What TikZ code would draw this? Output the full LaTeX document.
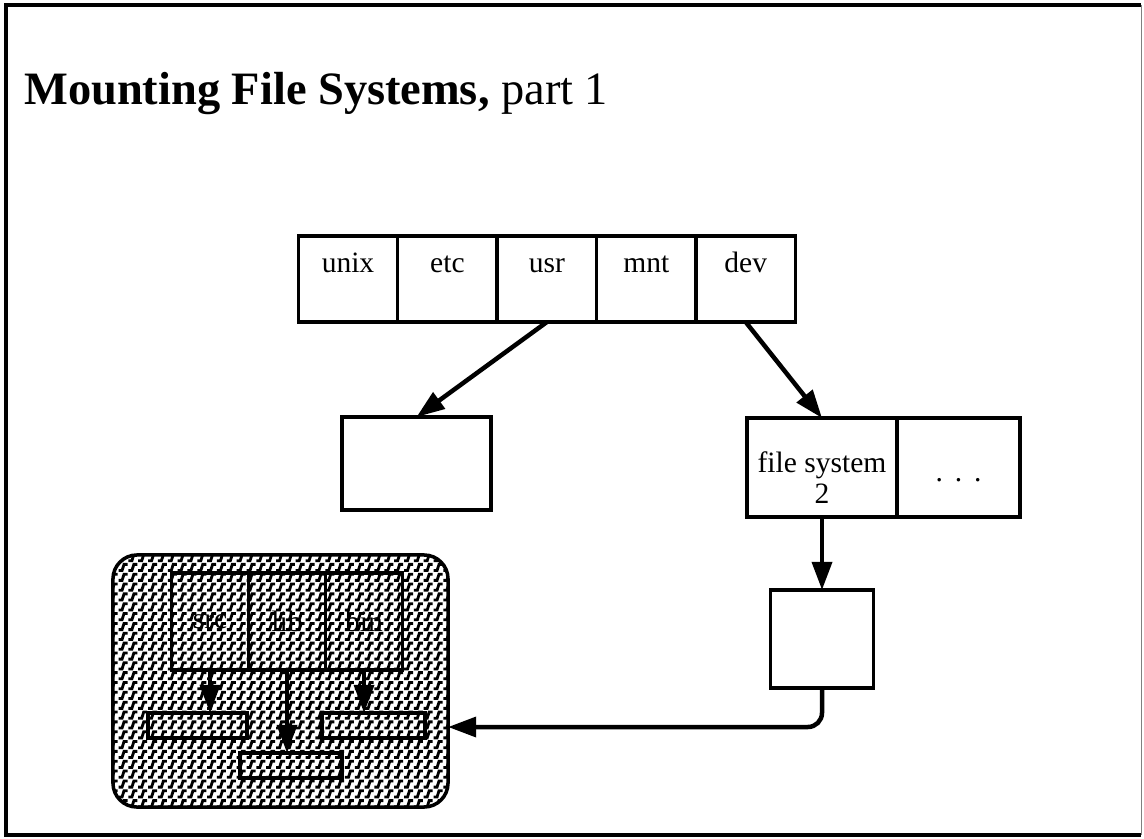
\documentclass[tikz,border=0pt]{standalone}
\usepackage{fontspec}
\setmainfont{Liberation Serif}
\usetikzlibrary{positioning,arrows.meta,calc,patterns}
\pgfdeclarepatternformonly{dollars}{\pgfqpoint{-1pt}{-1pt}}{\pgfqpoint{8pt}{8pt}}{\pgfqpoint{7pt}{7pt}}{%
  \pgfsetlinewidth{2pt}
  \pgfpathmoveto{\pgfqpoint{0.3pt}{1.2pt}}
  \pgfpathlineto{\pgfqpoint{2.8pt}{1.2pt}}
  \pgfpathlineto{\pgfqpoint{4.2pt}{5.6pt}}
  \pgfpathlineto{\pgfqpoint{6.7pt}{5.6pt}}
  \pgfusepath{stroke}}
\begin{document}
\begin{tikzpicture}[x=0.025cm,y=-0.025cm,
  cell/.style={draw,line width=2.5pt,outer sep=0pt,minimum width=2.485cm,minimum height=2.15cm,
    font=\fontsize{21}{23}\selectfont,text height=0.4cm,text depth=0.75cm},
  box/.style={draw,line width=2.5pt,outer sep=0pt,inner sep=0pt,font=\fontsize{21}{22}\selectfont},
  arr/.style={line width=3.2pt,-{Triangle[length=20pt,width=14pt]}}]
\useasboundingbox (0,0) rectangle (1144,838);
%Frame
\draw[line width=2.5pt] (1141,5) -- (6,5) -- (6,835) -- (1141,835);
\draw[gray,line width=0.6pt] (1141,5) -- (1141,835);
%Title
\node[anchor=base west,inner sep=0pt,font=\fontsize{33}{36}\selectfont] (title) at (24,104)
  {\textbf{Mounting File Systems,} part 1};
%Root directory
\node[cell] (unix) at (348,279) {unix};
\node[cell,right=0pt of unix] (etc) {etc};
\node[cell,right=0pt of etc] (usr) {usr};
\node[cell,right=0pt of usr] (mnt) {mnt};
\node[cell,right=0pt of mnt] (dev) {dev};
%usr directory and device table
\node[box,minimum width=3.725cm,minimum height=2.325cm] (dir) at (416.5,463.5) {};
\node[box,minimum width=3.75cm,minimum height=2.475cm,align=center] (fs) at (822,467.5)
  {\rule{0pt}{29pt}file system\\2};
\node[box,minimum width=3.075cm,minimum height=2.475cm,right=0pt of fs] (more)
  {\rule{0pt}{20pt}.\hspace{0.4em}.\hspace{0.4em}.};
\node[box,minimum width=2.575cm,minimum height=2.45cm,below=1.825cm of fs] (root2) {};
%Mounted file system
\node[box,rounded corners=0.6cm,pattern=dollars,minimum width=8.375cm,minimum height=6.3cm] (mounted) at (280.5,681) {};
\node[box,minimum width=1.925cm,minimum height=2.425cm] (src) at (210,621.5) {src};
\node[box,minimum width=1.925cm,minimum height=2.425cm,right=0pt of src] (lib) {lib};
\node[box,minimum width=1.925cm,minimum height=2.425cm,right=0pt of lib] (bin) {bin};
\node[box,minimum width=2.475cm,minimum height=0.625cm] (srcdir) at (197.5,725.5) {};
\node[box,minimum width=2.575cm,minimum height=0.625cm] (bindir) at (373.5,725.5) {};
\node[box,minimum width=2.55cm,minimum height=0.625cm] (libdir) at (291,765.5) {};
%Arrows
\draw[arr] (usr.south) -- (dir.north);
\draw[arr] (dev.south) -- (fs.north);
\draw[arr] (fs.south) -- (root2.north);
\draw[arr,rounded corners=10pt] (root2.south) |- ($(mounted.east)+(0,46)$);
\draw[arr] (src.south) -- (src.south |- srcdir.north);
\draw[arr] (lib.south) -- (lib.south |- libdir.north);
\draw[arr] (bin.south) -- (bin.south |- bindir.north);
\end{tikzpicture}
\end{document}
